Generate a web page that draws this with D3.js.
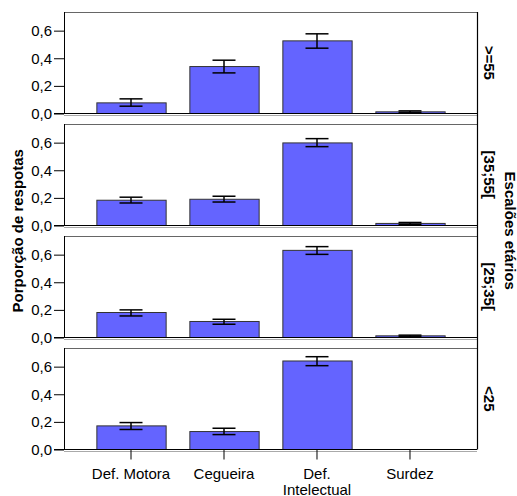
<!DOCTYPE html>
<html>
<head>
<meta charset="utf-8">
<script src="https://cdn.jsdelivr.net/npm/d3@7"></script>
<style>
  html, body { margin: 0; padding: 0; background: #fff; }
  svg { display: block; font-family: "Liberation Sans", Arial, sans-serif; }
</style>
</head>
<body>
<svg id="chart" width="517" height="496"></svg>
<script>
// Proportion of answers by type of disability, split by age group (mean with error bars)
const categories = ["Def. Motora", "Cegueira", "Def. Intelectual", "Surdez"];
const ageGroups = [">=55", "[35;55[", "[25;35[", "<25"];

const meanGe55 = [0.077, 0.340, 0.526, 0.012];
const lowGe55  = [0.053, 0.294, 0.473, 0.005];
const highGe55 = [0.106, 0.386, 0.577, 0.019];

const mean35to55 = [0.183, 0.190, 0.598, 0.015];
const low35to55  = [0.163, 0.170, 0.571, 0.007];
const high35to55 = [0.205, 0.212, 0.629, 0.022];

const mean25to35 = [0.181, 0.116, 0.631, 0.012];
const low25to35  = [0.156, 0.096, 0.602, 0.005];
const high25to35 = [0.200, 0.132, 0.658, 0.017];

const meanLt25 = [0.171, 0.130, 0.641, 0.000];
const lowLt25  = [0.145, 0.108, 0.607, 0.000];
const highLt25 = [0.195, 0.154, 0.672, 0.000];

const yTicks = [0, 0.2, 0.4, 0.6];
const yTickLabels = ["0,0", "0,2", "0,4", "0,6"];

const panels = [
  { group: ageGroups[0], mean: meanGe55,   low: lowGe55,   high: highGe55 },
  { group: ageGroups[1], mean: mean35to55, low: low35to55, high: high35to55 },
  { group: ageGroups[2], mean: mean25to35, low: low25to35, high: high25to35 },
  { group: ageGroups[3], mean: meanLt25,   low: lowLt25,   high: highLt25 }
];

const svg = d3.select("#chart");
const left = 64, right = 477;
const firstTop = 12, panelStep = 112, panelH = 101.5;

const x = d3.scaleBand()
  .domain(categories)
  .range([left, right])
  .paddingInner(0.255)
  .paddingOuter(0.348);

const y = d3.scaleLinear().domain([0, 0.735]).range([panelH, 0]);

const barFill = "#6464ff";
const capW = 23;

panels.forEach((p, i) => {
  const top = firstTop + i * panelStep;
  const g = svg.append("g").attr("transform", `translate(0,${top})`);

  // panel frame
  g.append("line").attr("x1", left).attr("x2", right).attr("y1", 0.5).attr("y2", 0.5)
    .attr("stroke", "#666").attr("stroke-width", 1);
  g.append("line").attr("x1", left).attr("x2", right).attr("y1", panelH + 2).attr("y2", panelH + 2)
    .attr("stroke", "#aaa").attr("stroke-width", 1);

  // bars
  g.selectAll("rect.bar").data(categories).join("rect")
    .attr("class", "bar")
    .attr("x", d => x(d) + 0.5)
    .attr("width", x.bandwidth())
    .attr("y", (d, j) => y(p.mean[j]))
    .attr("height", (d, j) => panelH - y(p.mean[j]))
    .attr("fill", barFill)
    .attr("stroke", "#333")
    .attr("stroke-width", 1);

  // error bars
  categories.forEach((c, j) => {
    if (p.high[j] <= p.low[j]) return;
    const cx = x(c) + x.bandwidth() / 2;
    const eb = g.append("g").attr("stroke", "#000").attr("stroke-width", 1.5);
    eb.append("line").attr("x1", cx).attr("x2", cx).attr("y1", y(p.high[j])).attr("y2", y(p.low[j]));
    eb.append("line").attr("x1", cx - capW / 2).attr("x2", cx + capW / 2).attr("y1", y(p.high[j])).attr("y2", y(p.high[j]));
    eb.append("line").attr("x1", cx - capW / 2).attr("x2", cx + capW / 2).attr("y1", y(p.low[j])).attr("y2", y(p.low[j]));
  });

  // left axis
  const yAxis = d3.axisLeft(y)
    .tickValues(yTicks)
    .tickFormat((d, k) => yTickLabels[k])
    .tickSize(10)
    .tickPadding(2);
  const ya = g.append("g").attr("transform", `translate(${left},0)`).call(yAxis);
  ya.select(".domain").attr("stroke", "#000").attr("d", `M0.5,0V${panelH}`);
  ya.selectAll(".tick line").attr("stroke", "#000");
  ya.selectAll(".tick text").attr("font-size", 15).attr("fill", "#000")
    .attr("font-family", "'Liberation Sans', Arial, sans-serif");

  // baseline
  g.append("line").attr("x1", left - 10).attr("x2", right).attr("y1", panelH).attr("y2", panelH)
    .attr("stroke", "#000").attr("stroke-width", 1.2);

  // row label on the right
  g.append("text")
    .attr("transform", `translate(489,${panelH / 2}) rotate(90)`)
    .attr("text-anchor", "middle")
    .attr("dominant-baseline", "central")
    .attr("font-size", 15)
    .attr("font-weight", "bold")
    .text(p.group);

  // category axis on the last panel
  if (i === panels.length - 1) {
    const xAxis = d3.axisBottom(x).tickSize(10).tickFormat("");
    const xa = g.append("g").attr("transform", `translate(0,${panelH})`).call(xAxis);
    xa.select(".domain").remove();
    xa.selectAll(".tick line").attr("stroke", "#000");
    categories.forEach(c => {
      const cx = x(c) + x.bandwidth() / 2;
      const words = c === "Def. Intelectual" ? ["Def.", "Intelectual"] : [c];
      const t = g.append("text")
        .attr("text-anchor", "middle")
        .attr("font-size", 15)
        .attr("fill", "#000");
      words.forEach((w, k) => {
        t.append("tspan").attr("x", cx).attr("y", panelH + 29 + k * 16).text(w);
      });
    });
  }
});

// continuous right border
svg.append("line")
  .attr("x1", right + 0.5).attr("x2", right + 0.5)
  .attr("y1", firstTop).attr("y2", firstTop + 3 * panelStep + panelH)
  .attr("stroke", "#000").attr("stroke-width", 1.2);

const plotMid = (firstTop + firstTop + 3 * panelStep + panelH) / 2;

// y axis title
svg.append("text")
  .attr("transform", `translate(17,${plotMid}) rotate(-90)`)
  .attr("text-anchor", "middle")
  .attr("dominant-baseline", "central")
  .attr("font-size", 15)
  .attr("font-weight", "bold")
  .text("Porporção de respotas");

// row facet title
svg.append("text")
  .attr("transform", `translate(510,${plotMid}) rotate(90)`)
  .attr("text-anchor", "middle")
  .attr("dominant-baseline", "central")
  .attr("font-size", 15)
  .attr("font-weight", "bold")
  .text("Escalões etários");
</script>
</body>
</html>
